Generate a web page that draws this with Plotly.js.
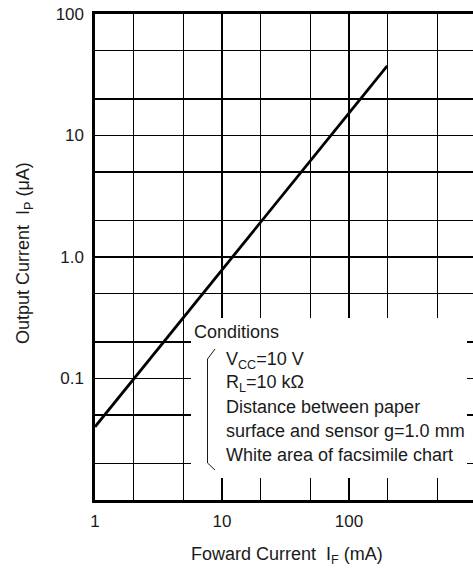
<!DOCTYPE html>
<html>
<head>
<meta charset="utf-8">
<script src="https://cdn.plot.ly/plotly-3.0.1.min.js"></script>
<style>
html,body{margin:0;padding:0;overflow:hidden;background:#fff;}
#chart{width:477px;height:569px;}
</style>
</head>
<body>
<div id="chart"></div>
<script>
// Data
const forwardCurrent = [1, 200];      // I_F (mA)
const outputCurrent = [0.04, 37.5];   // I_P (uA)

const xTickVals = [1, 10, 100];
const xTickText = ['1', '10', '100'];
const xGridVals = [1, 2, 5, 10, 20, 50, 100, 200, 500];
const yTickVals = [0.1, 1, 10, 100];
const yTickText = ['0.1', '1.0', '10', '100'];
const yGridVals = [0.01, 0.02, 0.05, 0.1, 0.2, 0.5, 1, 2, 5, 10, 20, 50, 100];

const conditionsTitle = 'Conditions';
const conditionLines = [
  'V<sub>CC</sub>=10 V',
  'R<sub>L</sub>=10 kΩ',
  'Distance between paper',
  'surface and sensor g=1.0 mm',
  'White area of facsimile chart'
];

const FONT = '"Liberation Sans", Arial, sans-serif';
const TXT = '#1a1a1a';
const W = 477, H = 569;
const M = {l: 95, r: 1, t: 14, b: 69};
const PW = W - M.l - M.r, PH = H - M.t - M.b;
const px = x => (x - M.l) / PW;
const py = y => (H - M.b - y) / PH;

const trace = {
  x: forwardCurrent, y: outputCurrent, type: 'scatter', mode: 'lines',
  line: {color: '#000', width: 2.8}, hoverinfo: 'skip', showlegend: false
};

const annotations = [];
annotations.push({xref: 'paper', yref: 'paper', x: px(192), y: py(332), xanchor: 'left', yanchor: 'middle',
  text: conditionsTitle, showarrow: false, font: {family: FONT, size: 18, color: TXT}});
const lineY = [360, 383.5, 407, 431, 455];
conditionLines.forEach((t, i) => {
  annotations.push({xref: 'paper', yref: 'paper', x: px(224), y: py(lineY[i]), xanchor: 'left', yanchor: 'middle',
    text: t, showarrow: false, font: {family: FONT, size: 18, color: TXT}});
});
annotations.push({xref: 'paper', yref: 'paper', x: px(287), y: py(555), xanchor: 'center', yanchor: 'middle',
  text: 'Foward Current\u00a0\u00a0I<sub>F</sub> (mA)', showarrow: false, font: {family: FONT, size: 18, color: TXT}});
annotations.push({xref: 'paper', yref: 'paper', x: px(24), y: py(253), xanchor: 'center', yanchor: 'middle', textangle: -90,
  text: 'Output Current\u00a0\u00a0I<sub>P</sub> (μA)', showarrow: false, font: {family: FONT, size: 18, color: TXT}});

const shapes = [
  {type: 'rect', xref: 'paper', yref: 'paper', x0: px(191), x1: px(467), y0: py(478), y1: py(318),
   fillcolor: '#fff', line: {width: 0}, layer: 'above'},
  {type: 'path', xref: 'paper', yref: 'paper', layer: 'above',
   path: `M ${px(215)} ${py(349)} L ${px(207.5)} ${py(359)} L ${px(207.5)} ${py(463)} L ${px(215)} ${py(470)}`,
   line: {color: TXT, width: 1}}
];

const axisCommon = {
  type: 'log', showgrid: true, gridcolor: '#000', gridwidth: 1.2,
  showline: true, linecolor: '#000', linewidth: 2.6, mirror: true,
  ticks: '', tickfont: {family: FONT, size: 17, color: TXT}, zeroline: false, fixedrange: true
};

const layout = {
  width: W, height: H, margin: M, paper_bgcolor: '#fff', plot_bgcolor: '#fff',
  showlegend: false,
  xaxis: Object.assign({}, axisCommon, {range: [0, 3], tickmode: 'array', tickvals: xTickVals, ticktext: xTickText, ticklabelstandoff: 4,
    minor: {tickmode: 'array', tickvals: xGridVals, showgrid: true, gridcolor: '#000', gridwidth: 1.2, ticks: ''}}),
  yaxis: Object.assign({}, axisCommon, {range: [-2, 2], tickmode: 'array', tickvals: yTickVals, ticktext: yTickText, ticklabelstandoff: 5,
    minor: {tickmode: 'array', tickvals: yGridVals, showgrid: true, gridcolor: '#000', gridwidth: 1.2, ticks: ''}}),
  annotations: annotations, shapes: shapes
};

Plotly.newPlot('chart', [trace], layout, {staticPlot: true, displayModeBar: false});
</script>
</body>
</html>
